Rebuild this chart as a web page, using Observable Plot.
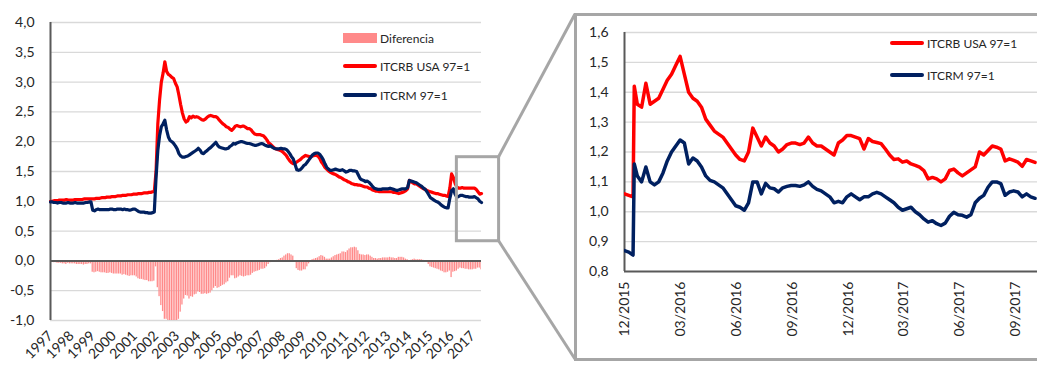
<!DOCTYPE html>
<html><head><meta charset="utf-8">
<script src="https://cdn.jsdelivr.net/npm/d3@7"></script>
<script src="https://cdn.jsdelivr.net/npm/@observablehq/plot@0.6"></script>
<style>
body{margin:0;background:#fff;font-family:Lato,sans-serif;}
#wrap{position:relative;width:1037px;height:365px;overflow:hidden;background:#fff;}
.abs{position:absolute;}
.leg{position:absolute;font:12px Lato,sans-serif;color:#262626;display:flex;align-items:center;white-space:nowrap;}
.sw{display:inline-block;margin-right:3px;}
</style></head><body><div id="wrap"></div>
<script>
// ---------- Left chart: monthly series, Jan 1997 .. Jun 2017 ----------
const yearLabels = ["1997","1998","1999","2000","2001","2002","2003","2004","2005","2006","2007","2008","2009","2010","2011","2012","2013","2014","2015","2016","2017"];
const itcrbUSA = [
1.00,1.00,1.01,1.01,1.01,1.02,1.02,1.02,1.02,1.03,1.02,1.02,
1.02,1.02,1.03,1.03,1.03,1.03,1.03,1.04,1.04,1.04,1.04,1.04,
1.04,1.04,1.05,1.05,1.05,1.06,1.06,1.06,1.07,1.07,1.07,1.08,
1.08,1.08,1.09,1.09,1.09,1.10,1.10,1.10,1.11,1.11,1.11,1.12,
1.12,1.12,1.13,1.13,1.13,1.14,1.14,1.14,1.15,1.15,1.16,1.16,
1.50,2.30,2.70,3.00,3.15,3.34,3.18,3.13,3.11,3.08,3.06,2.98,
2.92,2.78,2.62,2.48,2.38,2.33,2.35,2.42,2.40,2.43,2.41,2.42,
2.41,2.39,2.37,2.36,2.38,2.41,2.43,2.44,2.43,2.42,2.42,2.40,
2.36,2.33,2.30,2.28,2.25,2.24,2.21,2.19,2.22,2.26,2.27,2.26,
2.25,2.26,2.26,2.24,2.22,2.22,2.20,2.16,2.13,2.12,2.12,2.12,
2.11,2.10,2.07,2.03,1.98,1.96,1.93,1.90,1.88,1.87,1.86,1.85,
1.83,1.80,1.77,1.72,1.68,1.65,1.63,1.64,1.66,1.68,1.70,1.73,
1.75,1.77,1.76,1.75,1.75,1.76,1.77,1.77,1.76,1.72,1.66,1.62,
1.57,1.54,1.51,1.49,1.47,1.46,1.45,1.43,1.41,1.40,1.38,1.36,
1.35,1.33,1.32,1.30,1.29,1.28,1.28,1.27,1.27,1.26,1.25,1.24,
1.24,1.22,1.21,1.19,1.18,1.17,1.17,1.16,1.16,1.16,1.16,1.16,
1.16,1.16,1.16,1.15,1.15,1.14,1.13,1.14,1.15,1.16,1.18,1.21,
1.35,1.33,1.31,1.29,1.29,1.27,1.25,1.23,1.21,1.20,1.18,1.17,
1.16,1.15,1.14,1.13,1.13,1.12,1.11,1.10,1.10,1.09,1.08,1.22,
1.46,1.40,1.30,1.24,1.22,1.22,1.23,1.22,1.22,1.22,1.22,1.22,
1.22,1.22,1.20,1.16,1.12,1.13];
const itcrm = [
0.99,0.99,0.98,0.98,0.97,0.98,0.98,0.97,0.97,0.97,0.98,0.97,
0.97,0.97,0.98,0.97,0.97,0.97,0.97,0.97,0.98,0.98,0.99,0.99,
0.85,0.84,0.86,0.87,0.86,0.86,0.86,0.86,0.86,0.86,0.87,0.87,
0.86,0.86,0.87,0.87,0.87,0.86,0.87,0.86,0.86,0.85,0.86,0.87,
0.87,0.85,0.83,0.82,0.82,0.82,0.81,0.81,0.80,0.80,0.81,0.82,
1.40,1.85,2.10,2.25,2.30,2.36,2.20,2.08,2.02,2.00,1.97,1.93,
1.88,1.80,1.76,1.74,1.74,1.75,1.76,1.78,1.80,1.82,1.84,1.86,
1.89,1.86,1.81,1.80,1.83,1.85,1.88,1.90,1.93,1.96,1.99,1.94,
1.91,1.90,1.89,1.88,1.88,1.89,1.92,1.94,1.97,1.96,1.98,1.99,
2.00,2.00,1.99,1.98,1.97,1.97,1.96,1.95,1.94,1.94,1.95,1.96,
1.97,1.96,1.94,1.93,1.92,1.93,1.91,1.89,1.88,1.88,1.88,1.89,
1.88,1.88,1.87,1.84,1.80,1.75,1.71,1.62,1.53,1.52,1.53,1.56,
1.60,1.62,1.66,1.70,1.74,1.78,1.80,1.81,1.81,1.79,1.75,1.70,
1.63,1.57,1.54,1.52,1.52,1.53,1.54,1.53,1.52,1.52,1.53,1.51,
1.49,1.50,1.52,1.52,1.51,1.51,1.50,1.44,1.38,1.36,1.35,1.33,
1.34,1.32,1.29,1.25,1.22,1.21,1.20,1.20,1.20,1.21,1.21,1.21,
1.21,1.22,1.21,1.20,1.19,1.18,1.19,1.20,1.21,1.21,1.21,1.23,
1.35,1.34,1.33,1.32,1.31,1.29,1.27,1.25,1.22,1.20,1.16,1.11,
1.06,1.04,1.02,1.00,0.99,0.97,0.94,0.92,0.90,0.89,0.89,1.05,
1.18,1.21,1.12,1.07,1.08,1.10,1.10,1.09,1.08,1.08,1.07,1.07,
1.07,1.08,1.06,1.04,1.00,0.98];
const leftYTicks = [-1,-0.5,0,0.5,1,1.5,2,2.5,3,3.5,4];
// zoom-box annotation on the left chart (month index / index value)
const zoomBox = {x1: 231, x2: 255, y1: 0.33, y2: 1.74};

// ---------- Right chart: weekly readings, Dec 2015 .. Oct 2017 ----------
const rDates = ["2015-12-01","2015-12-08","2015-12-15","2015-12-17","2015-12-22","2015-12-29",
"2016-01-05","2016-01-12","2016-01-19","2016-01-26","2016-02-02","2016-02-09","2016-02-16","2016-02-23",
"2016-03-01","2016-03-08","2016-03-15","2016-03-22","2016-03-29","2016-04-05","2016-04-12","2016-04-19","2016-04-26",
"2016-05-03","2016-05-10","2016-05-17","2016-05-24","2016-05-31","2016-06-07","2016-06-14","2016-06-21","2016-06-28",
"2016-07-05","2016-07-12","2016-07-19","2016-07-26","2016-08-02","2016-08-09","2016-08-16","2016-08-23","2016-08-30",
"2016-09-06","2016-09-13","2016-09-20","2016-09-27","2016-10-04","2016-10-11","2016-10-18","2016-10-25",
"2016-11-01","2016-11-08","2016-11-15","2016-11-22","2016-11-29","2016-12-06","2016-12-13","2016-12-20","2016-12-27",
"2017-01-03","2017-01-10","2017-01-17","2017-01-24","2017-01-31","2017-02-07","2017-02-14","2017-02-21","2017-02-28",
"2017-03-07","2017-03-14","2017-03-21","2017-03-28","2017-04-04","2017-04-11","2017-04-18","2017-04-25",
"2017-05-02","2017-05-09","2017-05-16","2017-05-23","2017-05-30","2017-06-06","2017-06-13","2017-06-20","2017-06-27",
"2017-07-04","2017-07-11","2017-07-18","2017-07-25","2017-08-01","2017-08-08","2017-08-15","2017-08-22","2017-08-29",
"2017-09-05","2017-09-12","2017-09-19","2017-09-26","2017-10-03"];
const rItcrb = [1.06,1.055,1.05,1.42,1.36,1.35,
1.43,1.36,1.37,1.38,1.41,1.44,1.46,1.49,
1.52,1.46,1.40,1.38,1.37,1.35,1.31,1.29,1.27,
1.26,1.25,1.23,1.21,1.19,1.175,1.17,1.20,1.28,
1.25,1.22,1.25,1.23,1.22,1.20,1.21,1.225,1.23,
1.23,1.225,1.23,1.25,1.23,1.22,1.22,1.21,
1.20,1.19,1.23,1.24,1.255,1.255,1.25,1.245,1.21,
1.245,1.235,1.232,1.228,1.21,1.19,1.175,1.177,1.166,
1.17,1.16,1.155,1.149,1.138,1.11,1.115,1.11,
1.10,1.11,1.138,1.143,1.13,1.12,1.13,1.14,1.15,
1.20,1.19,1.205,1.22,1.216,1.21,1.17,1.177,1.172,
1.166,1.152,1.175,1.17,1.165];
const rItcrm = [0.87,0.865,0.855,1.16,1.12,1.10,
1.15,1.10,1.09,1.10,1.13,1.17,1.20,1.22,
1.24,1.23,1.16,1.18,1.17,1.15,1.12,1.105,1.10,
1.09,1.08,1.06,1.04,1.02,1.015,1.005,1.03,1.10,
1.10,1.06,1.095,1.08,1.077,1.066,1.08,1.085,1.088,
1.088,1.085,1.09,1.10,1.085,1.075,1.07,1.06,
1.05,1.03,1.035,1.03,1.05,1.06,1.05,1.04,1.05,
1.05,1.06,1.065,1.06,1.05,1.04,1.03,1.015,1.005,
1.01,1.015,1.0,0.99,0.976,0.965,0.97,0.96,
0.954,0.962,0.985,0.998,0.99,0.988,0.982,0.99,1.03,
1.045,1.055,1.082,1.10,1.10,1.094,1.055,1.066,1.07,
1.066,1.05,1.06,1.05,1.045];
const rYTicks = [0.8,0.9,1.0,1.1,1.2,1.3,1.4,1.5,1.6];
const rXTicks = ["2015-12-01","2016-03-01","2016-06-01","2016-09-01","2016-12-01","2017-03-01","2017-06-01","2017-09-01"];
const rXDomain = ["2015-12-01","2017-10-07"];

const series = ["Diferencia","ITCRB USA 97=1","ITCRM 97=1"];
const colors = {dif:"#ff8a8a", red:"#ff0000", blue:"#002060"};
const gridColor = "#d9d9d9", axisColor = "#595959", frameColor = "#a6a6a6";
const fmt = d => d.toFixed(1).replace(".", ",");

// ---------- build ----------
const wrap = document.getElementById("wrap");
const rows = itcrbUSA.map((v, i) => ({i, itcrb: v, itcrm: itcrm[i], dif: itcrm[i] - v}));

const left = Plot.plot({
  width: 520, height: 365,
  marginLeft: 50, marginRight: 39, marginTop: 22, marginBottom: 45,
  style: {fontFamily: "Lato, sans-serif", fontSize: "14px", color: "#262626", background: "transparent", overflow: "visible"},
  x: {type: "linear", domain: [0, itcrbUSA.length - 1]},
  y: {domain: [-1, 4]},
  marks: [
    Plot.gridY(leftYTicks, {stroke: gridColor, strokeOpacity: 1, strokeWidth: 1.3}),
    Plot.rect(rows, {x1: d => d.i - 0.36, x2: d => d.i + 0.36, y1: () => 0, y2: "dif", fill: colors.dif, clip: true}),
    Plot.ruleY([0], {stroke: axisColor, strokeWidth: 2}),
    Plot.ruleX([0], {stroke: axisColor, strokeWidth: 2}),
    Plot.line(rows, {x: "i", y: "itcrb", stroke: colors.red, strokeWidth: 3.2, strokeLinejoin: "round"}),
    Plot.line(rows, {x: "i", y: "itcrm", stroke: colors.blue, strokeWidth: 3.2, strokeLinejoin: "round"}),
    Plot.axisY(leftYTicks, {tickSize: 0, tickPadding: 16, tickFormat: fmt, fontSize: 14}),
    Plot.axisX(yearLabels.map((_, k) => k * 12), {tickSize: 0, tickRotate: -45, tickPadding: 13, fontSize: 14, tickFormat: d => yearLabels[d / 12]}),
    Plot.rect([zoomBox], {x1: "x1", x2: "x2", y1: "y1", y2: "y2", fill: "none", stroke: frameColor, strokeWidth: 3, clip: false})
  ]
});
left.classList.add("abs"); left.style.left = "0px"; left.style.top = "0px";
wrap.appendChild(left);

// zoom frame
const FR = {left: 575, top: 14, bottom: 359};
const frame = document.createElement("div");
frame.className = "abs";
Object.assign(frame.style, {left: (FR.left - 1.5) + "px", top: (FR.top - 1.5) + "px", width: "600px", height: (FR.bottom - FR.top + 3) + "px", border: "3px solid " + frameColor, boxSizing: "border-box"});
wrap.appendChild(frame);

const rRows = rDates.map((d, k) => ({date: new Date(d), itcrb: rItcrb[k], itcrm: rItcrm[k]}));
const right = Plot.plot({
  width: 462, height: 345,
  marginLeft: 49, marginRight: 0, marginTop: 18, marginBottom: 88,
  style: {fontFamily: "Lato, sans-serif", fontSize: "14px", color: "#262626", background: "transparent", overflow: "visible"},
  x: {type: "utc", domain: rXDomain.map(d => new Date(d))},
  y: {domain: [rYTicks[0], rYTicks[rYTicks.length - 1]]},
  marks: [
    Plot.gridY(rYTicks.slice(1), {stroke: gridColor, strokeOpacity: 1, strokeWidth: 1.3}),
    Plot.ruleY([rYTicks[0]], {stroke: axisColor, strokeWidth: 2}),
    Plot.ruleX([new Date(rXDomain[0])], {stroke: axisColor, strokeWidth: 2}),
    Plot.line(rRows, {x: "date", y: "itcrb", stroke: colors.red, strokeWidth: 3.5, strokeLinejoin: "round", clip: true}),
    Plot.line(rRows, {x: "date", y: "itcrm", stroke: colors.blue, strokeWidth: 3.5, strokeLinejoin: "round", clip: true}),
    Plot.axisY(rYTicks, {tickSize: 0, tickPadding: 16, tickFormat: fmt, fontSize: 14}),
    Plot.axisX(rXTicks.map(d => new Date(d)), {tickSize: 0, tickRotate: -90, tickPadding: 10, fontSize: 14, tickFormat: d3.utcFormat("%m/%Y")})
  ]
});
right.classList.add("abs"); right.style.left = FR.left + "px"; right.style.top = FR.top + "px";
wrap.appendChild(right);

// connectors from the zoom box to the frame
const sx = left.scale("x"), sy = left.scale("y");
const bx = sx.apply(zoomBox.x2), byTop = sy.apply(zoomBox.y2), byBot = sy.apply(zoomBox.y1);
const ov = d3.create("svg").attr("class", "abs").attr("width", 1037).attr("height", 365)
  .style("left", "0px").style("top", "0px").style("pointer-events", "none");
ov.append("line").attr("x1", bx).attr("y1", byTop).attr("x2", FR.left).attr("y2", FR.top).attr("stroke", frameColor).attr("stroke-width", 3);
ov.append("line").attr("x1", bx).attr("y1", byBot).attr("x2", FR.left).attr("y2", FR.bottom).attr("stroke", frameColor).attr("stroke-width", 3);
wrap.appendChild(ov.node());

// legends
function legend(x, y, kind, color, label) {
  const el = document.createElement("div");
  el.className = "leg";
  el.style.left = x + "px"; el.style.top = (y - 8) + "px"; el.style.height = "16px";
  const sw = document.createElement("span");
  sw.className = "sw";
  if (kind === "rect") Object.assign(sw.style, {width: "34px", height: "10px", background: color});
  else Object.assign(sw.style, {width: "34px", height: "4px", background: color, borderRadius: "2px"});
  el.appendChild(sw);
  el.appendChild(document.createTextNode(label));
  wrap.appendChild(el);
}
legend(343, 38, "rect", colors.dif, series[0]);
legend(343, 66, "line", colors.red, series[1]);
legend(343, 95, "line", colors.blue, series[2]);
legend(890, 43, "line", colors.red, series[1]);
legend(890, 75, "line", colors.blue, series[2]);
</script></body></html>
